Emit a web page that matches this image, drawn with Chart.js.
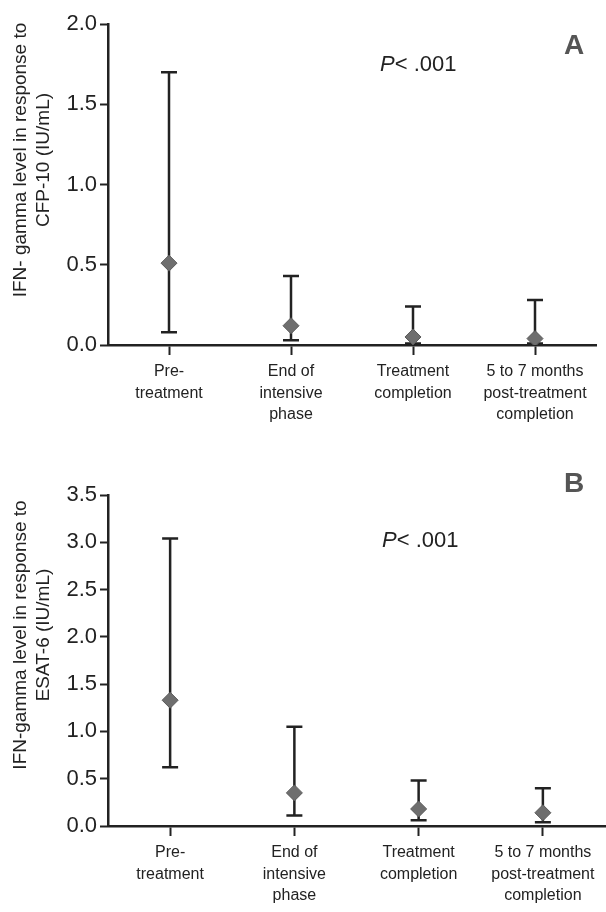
<!DOCTYPE html>
<html>
<head>
<meta charset="utf-8">
<script src="https://cdn.jsdelivr.net/npm/chart.js@4.4.1/dist/chart.umd.min.js"></script>
<style>
  html, body { margin: 0; padding: 0; background: #fff; }
  .panel { position: absolute; left: 0; width: 606px; }
  #panelA { top: 0; height: 430px; }
  #panelB { top: 430px; height: 482px; }
</style>
</head>
<body>
<div class="panel" id="panelA"><canvas id="chartA"></canvas></div>
<div class="panel" id="panelB"><canvas id="chartB"></canvas></div>
<script>
// categories (x axis, multi-line labels)
const categories = [
    ["Pre-", "treatment"],
    ["End of", "intensive", "phase"],
    ["Treatment", "completion"],
    ["5 to 7 months", "post-treatment", "completion"]
];

// Panel A: CFP-10 response (median + range)
const cfpMedian = [0.51, 0.12, 0.05, 0.04];
const cfpLow    = [0.08, 0.03, 0.01, 0.01];
const cfpHigh   = [1.70, 0.43, 0.24, 0.28];

// Panel B: ESAT-6 response
const esatMedian = [1.33, 0.35, 0.18, 0.14];
const esatLow    = [0.62, 0.11, 0.06, 0.04];
const esatHigh   = [3.04, 1.05, 0.48, 0.40];

const yTicksA = [0, 0.5, 1.0, 1.5, 2.0];
const yTicksB = [0, 0.5, 1.0, 1.5, 2.0, 2.5, 3.0, 3.5];

const FONT = '"Liberation Sans", Arial, sans-serif';
const INK = '#222222';

// error bars drawn under the diamonds, using the chart scales
const errorBarPlugin = {
    id: 'errorBars',
    beforeDatasetsDraw(chart, args, opts) {
        const ctx = chart.ctx;
        const x = chart.scales.x, y = chart.scales.y;
        ctx.save();
        ctx.strokeStyle = INK;
        ctx.lineWidth = 2.5;
        opts.low.forEach(function (lo, i) {
            const px = x.getPixelForValue(i);
            const yl = y.getPixelForValue(lo);
            const yh = y.getPixelForValue(opts.high[i]);
            ctx.beginPath();
            ctx.moveTo(px, yl); ctx.lineTo(px, yh);
            ctx.moveTo(px - 8, yh); ctx.lineTo(px + 8, yh);
            ctx.moveTo(px - 8, yl); ctx.lineTo(px + 8, yl);
            ctx.stroke();
        });
        ctx.restore();
    }
};

// axis title, p value and panel letter
const annotationPlugin = {
    id: 'panelText',
    afterDraw(chart, args, opts) {
        const ctx = chart.ctx;
        ctx.save();
        ctx.fillStyle = INK;
        ctx.textAlign = 'center';
        ctx.textBaseline = 'middle';
        // rotated y title
        ctx.font = '19px ' + FONT;
        opts.title.forEach(function (line, i) {
            ctx.save();
            ctx.translate(21 + i * 23, opts.titleY);
            ctx.rotate(-Math.PI / 2);
            ctx.fillText(line, 0, 0);
            ctx.restore();
        });
        // P value
        ctx.textAlign = 'left';
        ctx.font = 'italic 22px ' + FONT;
        ctx.fillText('P', opts.pX, opts.pY);
        const pw = ctx.measureText('P').width;
        ctx.font = '22px ' + FONT;
        ctx.fillText('< .001', opts.pX + pw, opts.pY);
        // panel letter
        ctx.textAlign = 'center';
        ctx.font = 'bold 28px ' + FONT;
        ctx.fillStyle = '#555555';
        ctx.fillText(opts.letter, 574, opts.letterY);
        ctx.restore();
    }
};

function makeChart(id, medians, low, high, yMax, yTicks, padding, xHeight, text) {
    return new Chart(document.getElementById(id), {
        type: 'line',
        data: {
            labels: categories,
            datasets: [{
                data: medians,
                showLine: false,
                pointStyle: 'rectRot',
                pointRadius: 8,
                pointHoverRadius: 8,
                pointBackgroundColor: '#6e6e6e',
                pointBorderColor: '#5a5a5a',
                pointBorderWidth: 1
            }]
        },
        options: {
            responsive: true,
            maintainAspectRatio: false,
            animation: false,
            layout: { padding: padding, autoPadding: false },
            plugins: {
                legend: { display: false },
                tooltip: { enabled: false },
                errorBars: { low: low, high: high },
                panelText: text
            },
            scales: {
                x: {
                    offset: true,
                    grid: { display: true, drawOnChartArea: false, offset: false, tickLength: 10, tickColor: INK, tickWidth: 2 },
                    border: { display: true, color: INK, width: 2.5 },
                    ticks: { color: INK, font: { size: 16, family: FONT, lineHeight: 1.35 }, padding: 6, maxRotation: 0, autoSkip: false },
                    afterFit: function (scale) {
                        scale.height = xHeight;
                        scale.paddingLeft = 0;
                        scale.paddingRight = 0;
                    }
                },
                y: {
                    min: 0,
                    max: yMax,
                    afterBuildTicks: function (scale) { scale.ticks = yTicks.map(function (v) { return { value: v }; }); },
                    grid: { display: true, drawOnChartArea: false, tickLength: 8, tickColor: INK, tickWidth: 2 },
                    border: { display: true, color: INK, width: 2.5 },
                    ticks: {
                        color: INK,
                        font: { size: 22, family: FONT },
                        padding: 3,
                        callback: function (v) { return Number(v).toFixed(1); }
                    },
                    afterFit: function (scale) { scale.width = 108; }
                }
            }
        },
        plugins: [errorBarPlugin, annotationPlugin]
    });
}

makeChart('chartA', cfpMedian, cfpLow, cfpHigh, 2.0, yTicksA,
    { top: 24, left: 0, right: 10, bottom: 0 }, 85,
    { title: ['IFN- gamma level in response to', 'CFP-10 (IU/mL)'], titleY: 160, pX: 380, pY: 65, letter: 'A', letterY: 46 });

makeChart('chartB', esatMedian, esatLow, esatHigh, 3.5, yTicksB,
    { top: 65, left: 0, right: 1, bottom: 0 }, 86,
    { title: ['IFN-gamma level in response to', 'ESAT-6 (IU/mL)'], titleY: 205, pX: 382, pY: 111, letter: 'B', letterY: 54 });
</script>
</body>
</html>
